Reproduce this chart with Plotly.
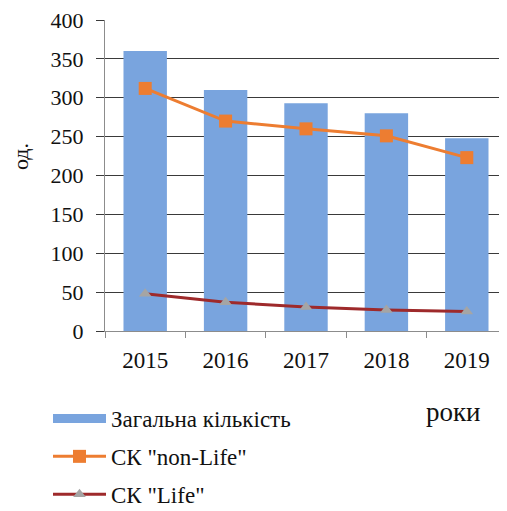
import plotly.graph_objects as go

years = ["2015", "2016", "2017", "2018", "2019"]
total = [360, 310, 293, 280, 248]
non_life = [312, 270, 260, 251, 223]
life = [48, 37, 31, 27, 25]
y_ticks = [0, 50, 100, 150, 200, 250, 300, 350, 400]

FONT = "Liberation Serif"
BAR_COLOR = "#79A4DE"

# page body has an 8px default margin; work in screen pixels and subtract it
OFF = 8
PL, PW, PT, PH = 105 - OFF, 402, 20 - OFF, 311
W, H = 507 - OFF, 511 - OFF


def px(x):
    return (x - OFF - PL) / PW


def py(y):
    return (PT + PH - (y - OFF)) / PH


fig = go.Figure()
fig.add_trace(go.Bar(
    x=years, y=total, name="Загальна кількість",
    marker=dict(color=BAR_COLOR, line=dict(width=0)),
    legendgroup="a", showlegend=False,
))
# legend proxy for the bar series (wide rectangle as in the reference)
fig.add_trace(go.Scatter(
    x=[None], y=[None], name="Загальна кількість", mode="lines",
    line=dict(color=BAR_COLOR, width=9), legendgroup="a", hoverinfo="skip",
))
fig.add_trace(go.Scatter(
    x=years, y=non_life, name='СК "non-Life"', mode="lines+markers",
    line=dict(color="#ED7D31", width=3),
    marker=dict(symbol="square", size=13, color="#ED7D31"),
    legendgroup="b",
))
fig.add_trace(go.Scatter(
    x=years, y=life, name='СК "Life"', mode="lines+markers",
    line=dict(color="#9E2A2B", width=3),
    marker=dict(symbol="triangle-up", size=11, color="#A5A5A5"),
    legendgroup="c",
))

fig.update_layout(
    width=W, height=H,
    margin=dict(l=PL, r=0, t=PT, b=H - PT - PH, autoexpand=False, pad=0),
    paper_bgcolor="white", plot_bgcolor="white",
    font=dict(family=FONT, size=22, color="#111111"),
    bargap=0.46,
    showlegend=True,
    legend=dict(
        orientation="v", x=px(48), xanchor="left",
        y=py(397), yanchor="top",
        font=dict(family=FONT, size=23, color="#111111"),
        traceorder="grouped", tracegroupgap=5,
        itemwidth=53, bgcolor="rgba(0,0,0,0)",
    ),
    xaxis=dict(
        type="category", showgrid=False,
        showline=True, linecolor="#8C8C8C", linewidth=1,
        ticks="outside", tickson="boundaries", ticklen=6, tickcolor="#8C8C8C",
        tickfont=dict(family=FONT, size=23),
        ticklabelstandoff=8,
    ),
    yaxis=dict(
        range=[0, 400], tickvals=y_ticks,
        showgrid=True, gridcolor="#3A3A3A", gridwidth=1.3,
        showline=True, linecolor="#8C8C8C", linewidth=1,
        ticks="outside", ticklen=8, tickcolor="#3A3A3A",
        tickfont=dict(family=FONT, size=22),
        ticklabeloverflow="allow", ticklabelstandoff=8,
        zeroline=False,
    ),
    annotations=[
        dict(text="од.", xref="paper", yref="paper",
             x=px(20), y=py(157), xanchor="center", yanchor="middle",
             showarrow=False, textangle=-90, font=dict(family=FONT, size=22)),
        dict(text="роки", xref="paper", yref="paper", x=px(453),
             y=py(412), xanchor="center", yanchor="middle",
             showarrow=False, font=dict(family=FONT, size=27)),
    ],
)

fig.write_html("out.html")
